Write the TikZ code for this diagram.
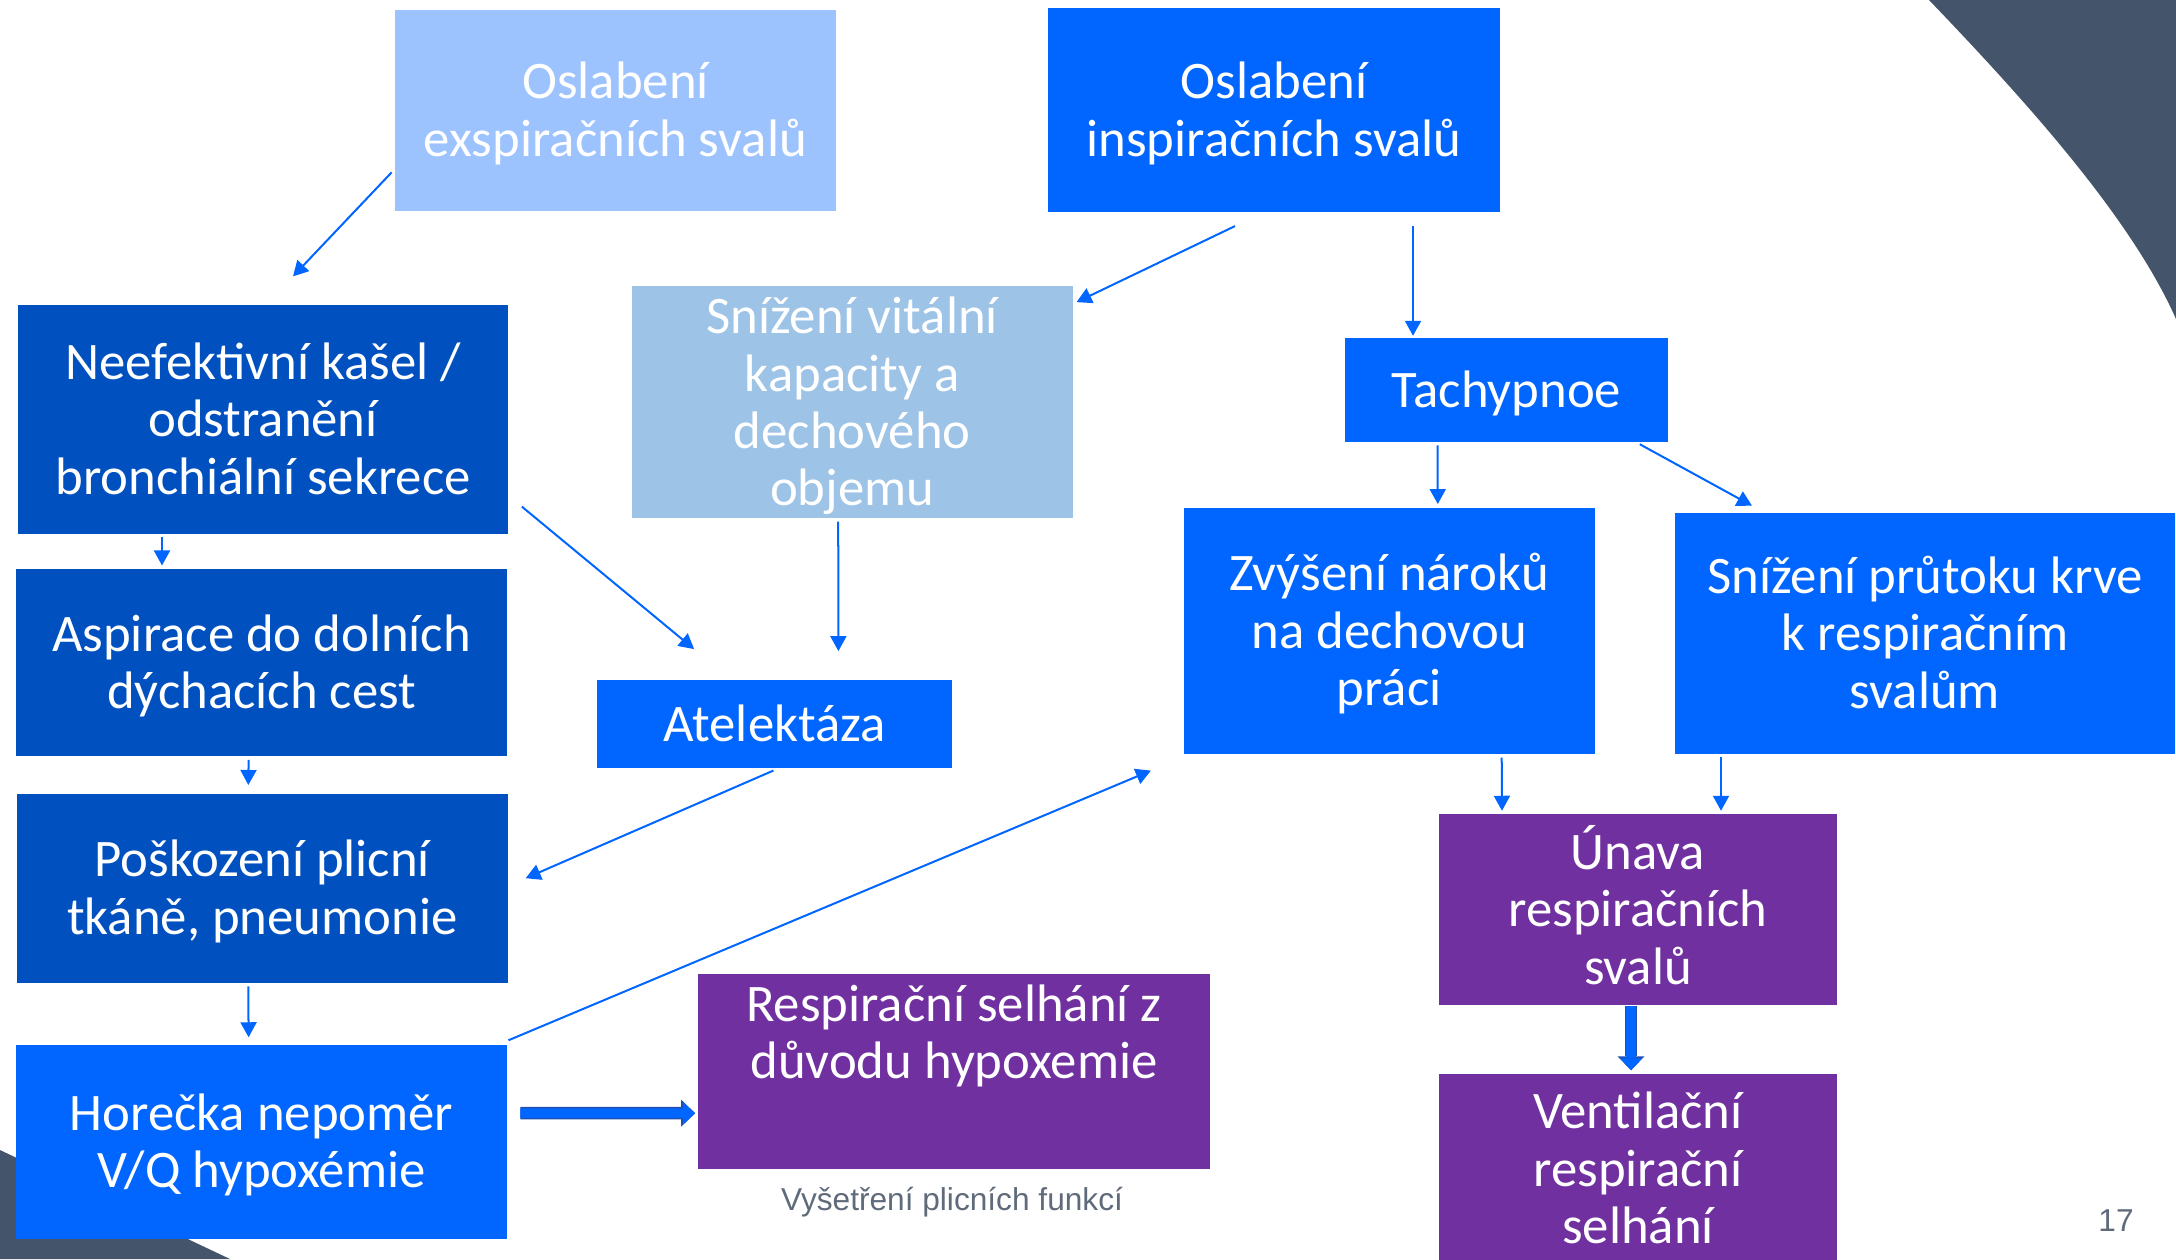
\documentclass[tikz,border=0pt]{standalone}
\usepackage{fontspec}
\setmainfont{Carlito}
\newfontfamily\footfont{Liberation Sans}
\usetikzlibrary{arrows.meta,calc}
\definecolor{expblue}{HTML}{9DC3FF}
\definecolor{vkblue}{HTML}{9DC3E6}
\definecolor{darkblue}{HTML}{0050C0}
\definecolor{brightblue}{HTML}{0066FF}
\definecolor{boxpurple}{HTML}{7030A0}
\definecolor{slate}{HTML}{44546A}
\definecolor{footgray}{HTML}{5F6B7A}
\definecolor{edgedark}{HTML}{1F4FB0}
\newcommand{\rowlift}{\rule{0pt}{14.7pt}}
\begin{document}
\begin{tikzpicture}[x=0.01cm,y=-0.01cm]
        \useasboundingbox (0,0) rectangle (2176,1259);
        \clip (0,0) rectangle (2176,1259);
        \tikzstyle{every node}=[rectangle, inner sep=0pt]
        \tikzstyle{box}=[text=white, font=\fontsize{15}{16.3}\selectfont]
        \tikzstyle{foot}=[text=footgray, font=\footfont\fontsize{9}{11}\selectfont]
        \tikzstyle{edge}=[brightblue, line width=0.02cm, -{Triangle[length=0.15cm,width=0.16cm]}]
        \tikzstyle{fat}=[brightblue, line width=0.095cm, -{Triangle[length=0.12cm,width=0.22cm,line width=0pt]},
                preaction={draw=edgedark, line width=0.125cm, -{Triangle[length=0.14cm,width=0.27cm,line width=0pt]}}]

        \fill[slate] (1929,0) .. controls (2020,95) and (2130,215) .. (2176,319) -- (2176,0) -- cycle;
        \fill[slate] (0,1150) -- (230,1259) -- (0,1259) -- cycle;

        \node[box, fill=expblue,    minimum width=4.40cm, minimum height=2.01cm] (exp)     at (615.5,110.3)  {\begin{tabular}{c} \rowlift Oslabení \\ exspiračních svalů \end{tabular}};
        \node[box, fill=brightblue, minimum width=4.52cm, minimum height=2.04cm] (insp)    at (1274,110.3)   {\begin{tabular}{c} \rowlift Oslabení \\ inspiračních svalů \end{tabular}};
        \node[box, fill=darkblue,   minimum width=4.90cm, minimum height=2.29cm] (kasel)   at (263,419.6)    {\begin{tabular}{c} \rowlift Neefektivní kašel / \\ odstranění \\ bronchiální sekrece \end{tabular}};
        \node[box, fill=vkblue,     minimum width=4.41cm, minimum height=2.32cm] (vk)      at (852.2,401.9)  {\raisebox{0pt}[36.65pt][29.15pt]{\begin{tabular}{c} \rowlift Snížení vitální \\ kapacity a \\ dechového \\ objemu \end{tabular}}};
        \node[box, fill=brightblue, minimum width=3.23cm, minimum height=1.03cm] (tach)    at (1506.5,390)   {\begin{tabular}{c} \rowlift Tachypnoe \end{tabular}};
        \node[box, fill=darkblue,   minimum width=4.90cm, minimum height=1.87cm] (asp)     at (261.6,662.7)  {\begin{tabular}{c} \rowlift Aspirace do dolních \\ dýchacích cest \end{tabular}};
        \node[box, fill=brightblue, minimum width=3.55cm, minimum height=0.88cm] (atel)    at (774.4,723.8)  {\begin{tabular}{c} \rowlift Atelektáza \end{tabular}};
        \node[box, fill=brightblue, minimum width=4.11cm, minimum height=2.46cm] (prace)   at (1389.2,630.8) {\begin{tabular}{c} \rowlift Zvýšení nároků \\ na dechovou \\ práci \end{tabular}};
        \node[box, fill=brightblue, minimum width=5.00cm, minimum height=2.40cm] (prutok)  at (1925,633.5)   {\begin{tabular}{c} \rowlift Snížení průtoku krve \\ k respiračním \\ svalům \end{tabular}};
        \node[box, fill=darkblue,   minimum width=4.91cm, minimum height=1.89cm] (pneu)    at (262.3,888.2)  {\begin{tabular}{c} \rowlift Poškození plicní \\ tkáně, pneumonie \end{tabular}};
        \node[box, fill=boxpurple,  minimum width=3.98cm, minimum height=1.90cm] (unava)   at (1638,909.5)   {\begin{tabular}{c} \rowlift Únava \\ respiračních \\ svalů \end{tabular}};
        \node[box, fill=boxpurple,  minimum width=5.12cm, minimum height=1.95cm] (hypox)   at (954,1071.2)   {\raisebox{0pt}[31.47pt][23.97pt]{\begin{tabular}{c} \rowlift Respirační selhání z \\ důvodu hypoxemie \\[5.7pt] \mbox{} \end{tabular}}};
        \node[box, fill=brightblue, minimum width=4.90cm, minimum height=1.94cm] (horecka) at (261.6,1142)   {\begin{tabular}{c} \rowlift Horečka nepoměr \\ V/Q hypoxémie \end{tabular}};
        \node[box, fill=boxpurple,  minimum width=3.98cm, minimum height=1.90cm] (vent)    at (1638,1169)    {\begin{tabular}{c} \rowlift Ventilační \\ respirační \\ selhání \end{tabular}};

        \node[foot] (footer) at (952,1202)  {Vyšetření plicních funkcí};
        \node[foot] (num)    at (2116,1221) {17};

        \draw[edge] ($(exp.west)+(-3,62)$)      -- ($(kasel.north)+(30,-28)$);
        \draw[edge] ($(insp.south)+(-39,13)$)   -- ($(vk.north east)+(3,17)$);
        \draw[edge] ($(insp.south)+(139,13)$)   -- ($(tach.north)+(-93.5,-2)$);
        \draw[edge] ($(kasel.south)+(-101,2)$)  -- ($(asp.north)+(-99.6,-3)$);
        \draw[edge] ($(kasel.east)+(13,87)$)    -- ($(atel.north west)+(98,-30)$);
        \draw[edge] ($(vk.south)+(-14,3)$)      -- ($(atel.north)+(64,-28)$);
        \draw[edge] ($(tach.south)+(-69,3)$)    -- ($(prace.north)+(48.6,-3)$);
        \draw[edge] ($(tach.south east)+(-29,2)$) -- ($(prutok.north)+(-173,-7)$);
        \draw[edge] ($(asp.south)+(-13,3)$)     -- ($(pneu.north)+(-14,-8)$);
        \draw[edge] ($(atel.south)+(-1,2)$)     -- ($(pneu.east)+(17,-10)$);
        \draw[edge] ($(pneu.south)+(-14,3)$)    -- ($(horecka.north)+(-13,-7)$);
        \draw[edge] ($(horecka.north east)+(1,-4)$) -- ($(prace.south west)+(-32,16)$);
        \draw[edge] ($(prace.south)+(112.5,3)$) -- ($(unava.north)+(-136,-3)$);
        \draw[edge] ($(prutok.south)+(-204,3)$) -- ($(unava.north)+(83,-3)$);

        \draw[fat] ($(unava.south)+(-7,1)$)     -- ($(vent.north)+(-7,-3)$);
        \draw[fat] ($(horecka.east)+(13,-29)$)  -- ($(hypox.west)+(-2,42)$);
\end{tikzpicture}
\end{document}
